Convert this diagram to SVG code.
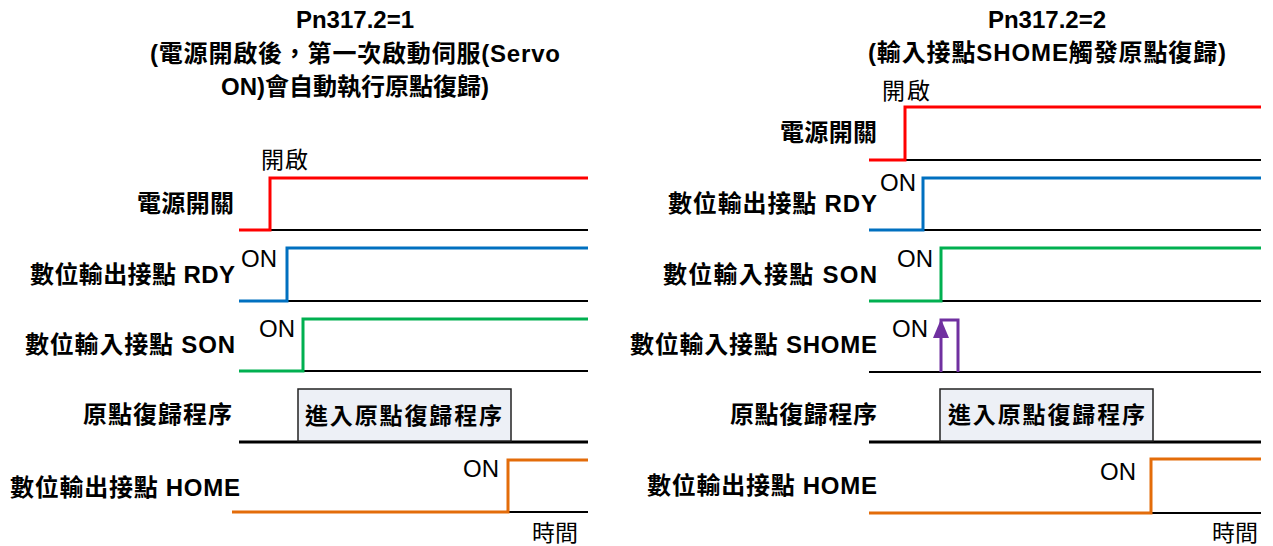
<svg xmlns="http://www.w3.org/2000/svg" width="1273" height="546" viewBox="0 0 1273 546">
<style>
text{font-family:"Liberation Sans","Noto Sans CJK TC",sans-serif;fill:#000}
.t{font-size:24px;font-weight:bold;text-anchor:middle}
.lbl{font-size:24px;font-weight:bold;text-anchor:end}
.note{font-size:23px}
.on{font-size:24px}
.box{fill:#EDF0F6;stroke:#222;stroke-width:1.5}
.boxt{font-size:23px;font-weight:bold}
.base{stroke:#000;stroke-width:1.8;fill:none}
.thick{stroke:#000;stroke-width:3.2;fill:none}
.sig{fill:none;stroke-width:3;stroke-linejoin:miter}
.red{stroke:#FF0000}.blue{stroke:#0070C0}.green{stroke:#00B050}.orange{stroke:#E36C0A}.purple{stroke:#7030A0}
</style>
<rect width="1273" height="546" fill="#fff"/>

<g id="title-left">
<text class="t" x="355" y="28">Pn317.2=1</text>
<text class="t" x="355" y="62" textLength="410">(電源開啟後，第一次啟動伺服(Servo</text>
<text class="t" x="355" y="95">ON)會自動執行原點復歸)</text>
</g>
<g id="title-right">
<text class="t" x="1047" y="28">Pn317.2=2</text>
<text class="t" x="1047" y="61" textLength="358">(輸入接點SHOME觸發原點復歸)</text>
</g>

<g id="labels-left">
<text class="lbl" x="234" y="212" textLength="97">電源開關</text>
<text class="lbl" x="235" y="283" textLength="205">數位輸出接點 RDY</text>
<text class="lbl" x="235" y="353" textLength="210">數位輸入接點 SON</text>
<text class="lbl" x="232" y="423" textLength="149">原點復歸程序</text>
<text class="lbl" x="240" y="496" textLength="230">數位輸出接點 HOME</text>
</g>
<g id="labels-right">
<text class="lbl" x="877" y="141" textLength="97">電源開關</text>
<text class="lbl" x="877" y="212" textLength="209">數位輸出接點 RDY</text>
<text class="lbl" x="877" y="283" textLength="214">數位輸入接點 SON</text>
<text class="lbl" x="877" y="353" textLength="247">數位輸入接點 SHOME</text>
<text class="lbl" x="877" y="423" textLength="147">原點復歸程序</text>
<text class="lbl" x="877" y="494" textLength="230">數位輸出接點 HOME</text>
</g>

<g id="connectors">
<!-- left panel -->
<line class="base" x1="270" y1="230" x2="588" y2="230"/>
<polyline class="sig red" points="239,230 270,230 270,178 588,178"/>
<line class="base" x1="287" y1="301" x2="588" y2="301"/>
<polyline class="sig blue" points="239,301 287,301 287,248 588,248"/>
<line class="base" x1="303" y1="371" x2="588" y2="371"/>
<polyline class="sig green" points="239,371 303,371 303,319 588,319"/>
<line class="thick" x1="239" y1="442" x2="588" y2="442"/>
<line class="base" x1="508" y1="512" x2="588" y2="512"/>
<polyline class="sig orange" points="232,512 508,512 508,460 588,460"/>
<!-- right panel -->
<line class="base" x1="905" y1="160" x2="1261" y2="160"/>
<polyline class="sig red" points="869,160 905,160 905,107 1261,107"/>
<line class="base" x1="923" y1="230" x2="1261" y2="230"/>
<polyline class="sig blue" points="869,230 923,230 923,178 1261,178"/>
<line class="base" x1="941" y1="301" x2="1261" y2="301"/>
<polyline class="sig green" points="869,301 941,301 941,248 1261,248"/>
<line class="base" x1="869" y1="372" x2="1261" y2="372"/>
<polyline class="sig purple" points="941,372 941,320 958,320 958,372"/>
<polygon points="933,338 949,338 941,319" fill="#7030A0"/>
<line class="thick" x1="869" y1="442" x2="1261" y2="442"/>
<line class="base" x1="1151" y1="513" x2="1261" y2="513"/>
<polyline class="sig orange" points="869,513 1151,513 1151,459 1261,459"/>
</g>

<g id="box-left">
<rect class="box" x="298" y="389" width="213" height="52"/>
<text class="boxt" x="305" y="424" textLength="197">進入原點復歸程序</text>
</g>
<g id="box-right">
<rect class="box" x="940" y="389" width="213" height="52"/>
<text class="boxt" x="948" y="423" textLength="197">進入原點復歸程序</text>
</g>

<g id="notes-left">
<text class="note" x="261" y="168" textLength="47">開啟</text>
<text class="on" x="241" y="267">ON</text>
<text class="on" x="259" y="337">ON</text>
<text class="on" x="463" y="477">ON</text>
<text class="note" x="532" y="541" textLength="46">時間</text>
</g>
<g id="notes-right">
<text class="note" x="882" y="99" textLength="48">開啟</text>
<text class="on" x="880" y="191">ON</text>
<text class="on" x="897" y="267">ON</text>
<text class="on" x="892" y="337">ON</text>
<text class="on" x="1100" y="480">ON</text>
<text class="note" x="1212" y="541" textLength="46">時間</text>
</g>
</svg>
